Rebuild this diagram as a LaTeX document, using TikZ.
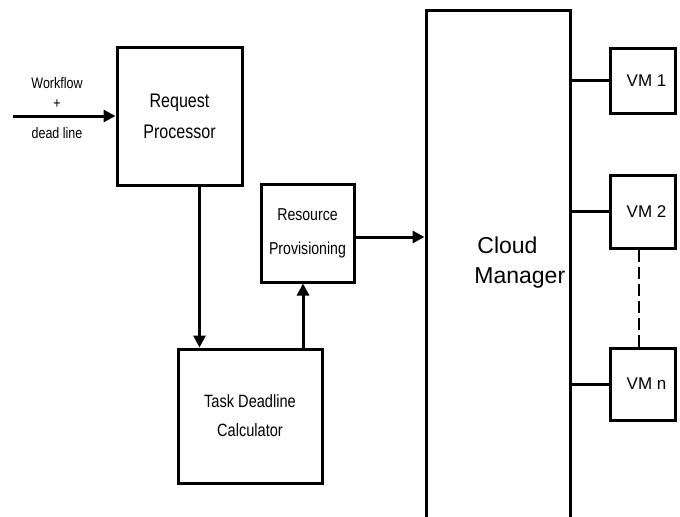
\documentclass[tikz,border=0pt]{standalone}
\usepackage{fontspec}
\setmainfont{Liberation Sans}
\newfontfamily\narrowfont[FakeStretch=0.82]{Liberation Sans}
\usetikzlibrary{arrows.meta}

\tikzset{
  box/.style={draw, line width=1.5pt, inner sep=0pt, align=center},
  arr/.style={line width=1.5pt, -{Triangle[length=6pt,width=6pt]}},
  link/.style={line width=1.5pt}
}

\begin{document}
\begin{tikzpicture}[x=0.5pt,y=-0.5pt]
  \clip (0,0) rectangle (680,516);

  % input
  \coordinate (in) at (13,116);
  \node [align=center, font=\narrowfont\fontsize{7.6}{10}\selectfont] (wf) at (57,93) {Workflow\\+};
  \node [font=\narrowfont\fontsize{7.6}{10}\selectfont] (dl) at (57,133) {dead line};

  % boxes on the left
  \node [box, minimum width=62.5pt, minimum height=69pt,
         font=\narrowfont\fontsize{9.8}{15.5}\selectfont] (rp) at (179.5,116) {Request\\Processor};
  \node [box, minimum width=72pt, minimum height=67pt,
         font=\narrowfont\fontsize{8.9}{14.5}\selectfont] (tdc) at (250,416) {Task Deadline\\Calculator};
  \node [box, minimum width=46.5pt, minimum height=49pt,
         font=\narrowfont\fontsize{8.6}{17}\selectfont] (rpv) at (307.5,233) {Resource\\Provisioning};

  % cloud manager (runs off the bottom)
  \node [box, minimum width=72pt, minimum height=265pt] (cm) at (498,275) {};
  \node [anchor=west, align=left, inner sep=0pt,
         font=\fontsize{11.5}{15}\selectfont] (cmlabel) at (474,263) {\hspace{1.5pt}Cloud\\Manager};

  % virtual machines
  \node [box, minimum width=32.5pt, minimum height=32.5pt, font=\fontsize{8.5}{10}\selectfont] (vm1) at (642.5,80.5) {\hspace{4pt}VM 1};
  \node [box, minimum width=32.5pt, minimum height=36.5pt, font=\fontsize{8.5}{10}\selectfont] (vm2) at (642.5,211.5) {\hspace{4pt}VM 2};
  \node [box, minimum width=32.5pt, minimum height=36pt, font=\fontsize{8.5}{10}\selectfont] (vmn) at (642.5,384) {\hspace{4pt}VM n};

  % connectors
  \draw [arr] (in) -- (rp.west);
  \draw [arr] ([xshift=10pt]rp.south) -- ([xshift=10pt]rp.south |- tdc.north);
  \draw [arr] ([xshift=26.5pt]tdc.north) -- ([xshift=26.5pt]tdc.north |- rpv.south);
  \draw [arr] ([yshift=-2pt]rpv.east) -- ([yshift=-2pt]rpv.east -| cm.west);
  \draw [link] (vm1.west -| cm.east) -- (vm1.west);
  \draw [link] (vm2.west -| cm.east) -- (vm2.west);
  \draw [link] (vmn.west -| cm.east) -- (vmn.west);
  \draw [line width=1pt, dash pattern=on 6pt off 2.5pt] ([xshift=-2pt]vm2.south) -- ([xshift=-2pt]vmn.north);
\end{tikzpicture}
\end{document}
